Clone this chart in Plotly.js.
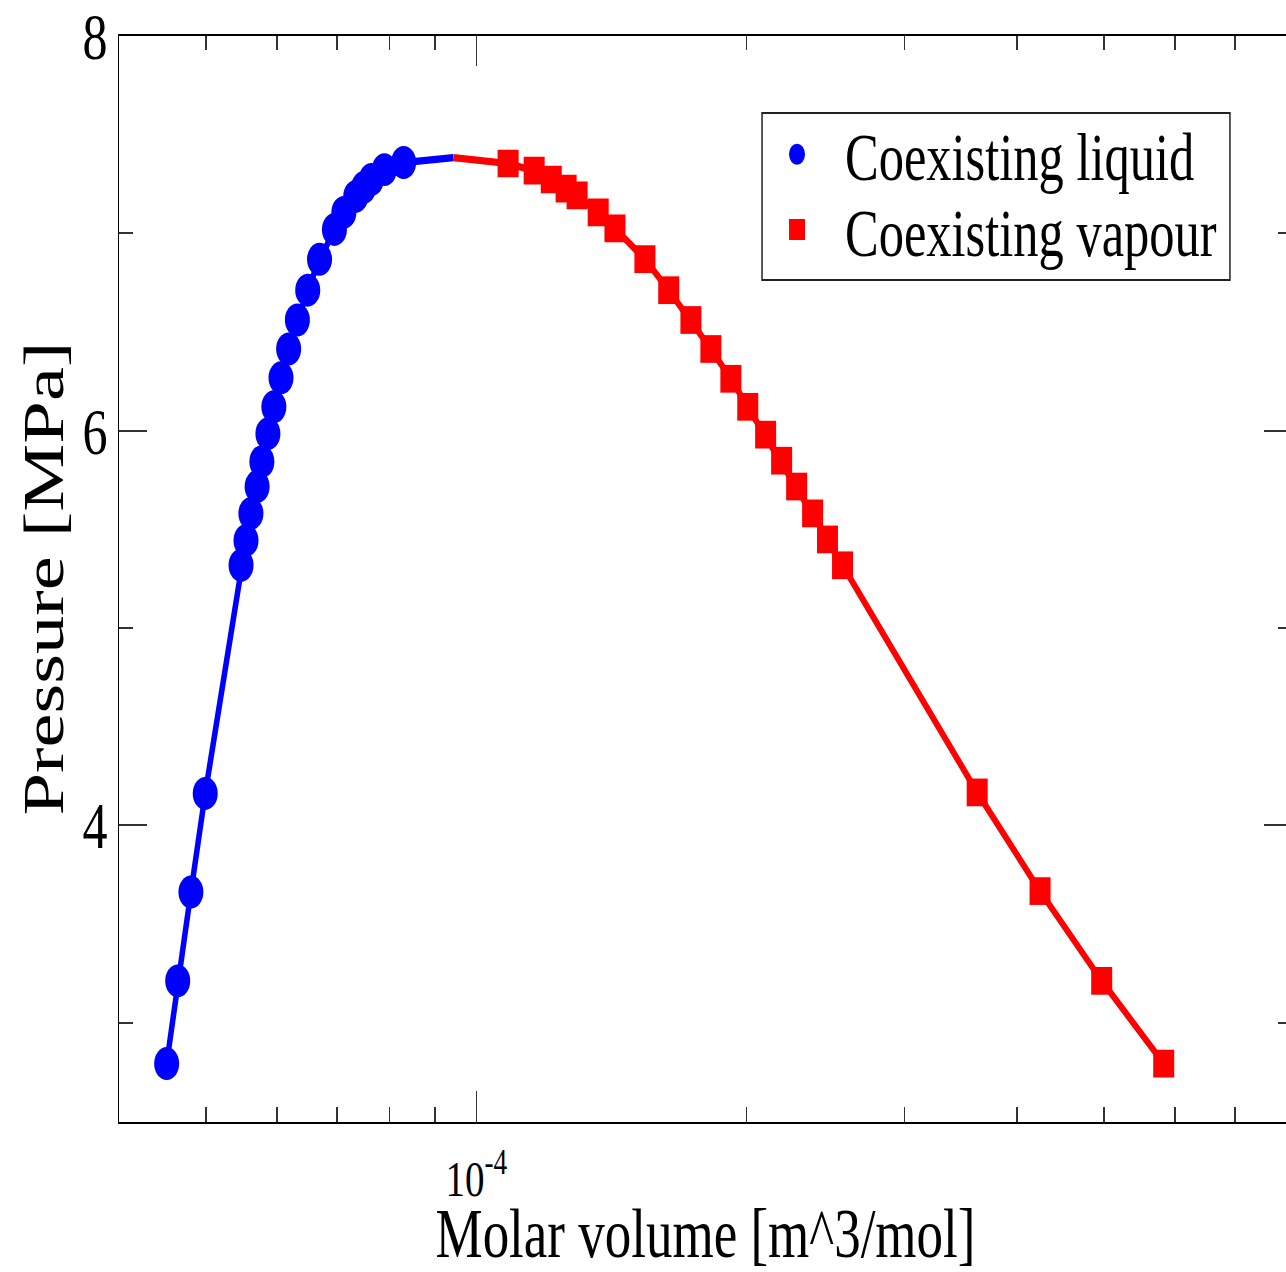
<!DOCTYPE html>
<html>
<head>
<meta charset="utf-8">
<script src="https://cdn.plot.ly/plotly-3.0.1.min.js"></script>
<style>
  html, body { margin: 0; padding: 0; background: #ffffff; overflow: hidden; width: 1286px; height: 1272px; }
  #plot { width: 1300px; height: 964px; transform: scaleY(1.3195); transform-origin: 0 0; }
</style>
</head>
<body>
<div id="plot"></div>
<script>
// Coexisting liquid branch: molar volume [m^3/mol], pressure [MPa]
const liquidVolume = [4.52e-5, 4.65e-5, 4.81e-5, 4.99e-5, 5.47e-5, 5.54e-5, 5.61e-5, 5.70e-5, 5.77e-5, 5.86e-5,
                      5.95e-5, 6.06e-5, 6.18e-5, 6.32e-5, 6.49e-5, 6.69e-5, 6.95e-5, 7.12e-5, 7.34e-5, 7.49e-5,
                      7.64e-5, 7.90e-5, 8.30e-5];
const liquidPressure = [2.793, 3.212, 3.662, 4.162, 5.318, 5.444, 5.581, 5.717, 5.843, 5.985,
                        6.121, 6.268, 6.414, 6.561, 6.712, 6.869, 7.020, 7.106, 7.187, 7.232,
                        7.273, 7.323, 7.359];
// Coexisting vapour branch
const vapourVolume = [1.085e-4, 1.160e-4, 1.212e-4, 1.259e-4, 1.295e-4, 1.367e-4, 1.427e-4, 1.541e-4, 1.638e-4, 1.734e-4,
                      1.825e-4, 1.921e-4, 2.006e-4, 2.100e-4, 2.188e-4, 2.274e-4, 2.369e-4, 2.461e-4, 2.558e-4, 3.613e-4,
                      4.245e-4, 4.972e-4, 5.829e-4];
const vapourPressure = [7.354, 7.318, 7.273, 7.227, 7.192, 7.106, 7.025, 6.869, 6.712, 6.561,
                        6.414, 6.263, 6.121, 5.980, 5.848, 5.717, 5.581, 5.449, 5.318, 4.167,
                        3.667, 3.212, 2.793];
// Critical point joining both branches
const criticalVolume = [9.43e-5];
const criticalPressure = [7.384];

// Axis ticks
const xMajorTicks = [1e-4];
const xMajorLabels = ['10<sup>-4</sup>'];
const xMinorTicks = [5e-5, 6e-5, 7e-5, 8e-5, 9e-5, 2e-4, 3e-4, 4e-4, 5e-4, 6e-4, 7e-4, 8e-4];
const yMajorTicks = [4, 6, 8];
const yMajorLabels = ['4', '6', '8'];
const yMinorTicks = [3, 5, 7];

const FONT = 'Liberation Serif, Times New Roman, serif';
const LEGEND_FONT = { family: FONT, size: 50.5, color: '#000000' };

const traces = [
  {
    x: liquidVolume.concat(criticalVolume), y: liquidPressure.concat(criticalPressure),
    mode: 'lines', line: { color: '#0000ff', width: 5.5 }, showlegend: false, hoverinfo: 'skip'
  },
  {
    x: criticalVolume.concat(vapourVolume), y: criticalPressure.concat(vapourPressure),
    mode: 'lines', line: { color: '#ff0000', width: 5.5 }, showlegend: false, hoverinfo: 'skip'
  },
  {
    x: liquidVolume, y: liquidPressure, name: 'Coexisting liquid', legend: 'legend',
    mode: 'markers', marker: { symbol: 'circle', size: 25, color: '#0000ff', line: { width: 0 } }
  },
  {
    x: vapourVolume, y: vapourPressure, name: 'Coexisting vapour', legend: 'legend2',
    mode: 'markers', marker: { symbol: 'square', size: 21, color: '#ff0000', line: { width: 0 } }
  }
];

const legendCommon = {
  xanchor: 'left', yanchor: 'middle',
  bgcolor: 'rgba(0,0,0,0)', borderwidth: 0,
  font: LEGEND_FONT, itemwidth: 86
};

const layout = {
  width: 1300, height: 964,
  margin: { l: 119, r: 8, t: 27, b: 114 },
  paper_bgcolor: '#ffffff', plot_bgcolor: '#ffffff',
  font: { family: FONT, color: '#000000' },
  showlegend: true,
  legend: Object.assign({ x: 0.5371, y: 0.8906 }, legendCommon),
  legend2: Object.assign({ x: 0.5371, y: 0.8212 }, legendCommon),
  shapes: [{
    type: 'rect', xref: 'paper', yref: 'paper',
    x0: 0.5482, x1: 0.9471, y0: 0.775, y1: 0.9288,
    line: { color: '#222222', width: 1.5 }, fillcolor: 'rgba(0,0,0,0)', layer: 'above'
  }],
  xaxis: {
    type: 'log',
    range: [Math.log10(4.0e-5), Math.log10(8.1e-4)],
    tickmode: 'array', tickvals: xMajorTicks, ticktext: xMajorLabels,
    ticks: 'inside', ticklen: 23, tickwidth: 1.5, tickcolor: '#333333',
    minor: { tickmode: 'array', tickvals: xMinorTicks, ticks: 'inside', ticklen: 11, tickwidth: 1.5, tickcolor: '#333333', showgrid: false },
    tickfont: { family: FONT, size: 39, color: '#000000' },
    ticklabelstandoff: 8,
    showline: true, linecolor: '#000000', linewidth: 1.5, mirror: 'ticks',
    showgrid: false, zeroline: false,
    title: { text: 'Molar volume [m^3/mol]', font: { family: FONT, size: 53, color: '#000000' }, standoff: 8 }
  },
  yaxis: {
    range: [2.499, 8.002],
    tickmode: 'array', tickvals: yMajorTicks, ticktext: yMajorLabels,
    ticks: 'inside', ticklen: 28, tickwidth: 1.5, tickcolor: '#333333',
    minor: { tickmode: 'array', tickvals: yMinorTicks, ticks: 'inside', ticklen: 14, tickwidth: 1.5, tickcolor: '#333333', showgrid: false },
    tickfont: { family: FONT, size: 50, color: '#000000' },
    ticklabelstandoff: 0, ticklabeloverflow: 'allow',
    showline: true, linecolor: '#000000', linewidth: 1.5, mirror: 'ticks',
    showgrid: false, zeroline: false,
    title: { text: 'Pressure [MPa]', font: { family: FONT, size: 58, color: '#000000' }, standoff: 0 }
  }
};

Plotly.newPlot('plot', traces, layout, { displayModeBar: false, staticPlot: true });
</script>
</body>
</html>
